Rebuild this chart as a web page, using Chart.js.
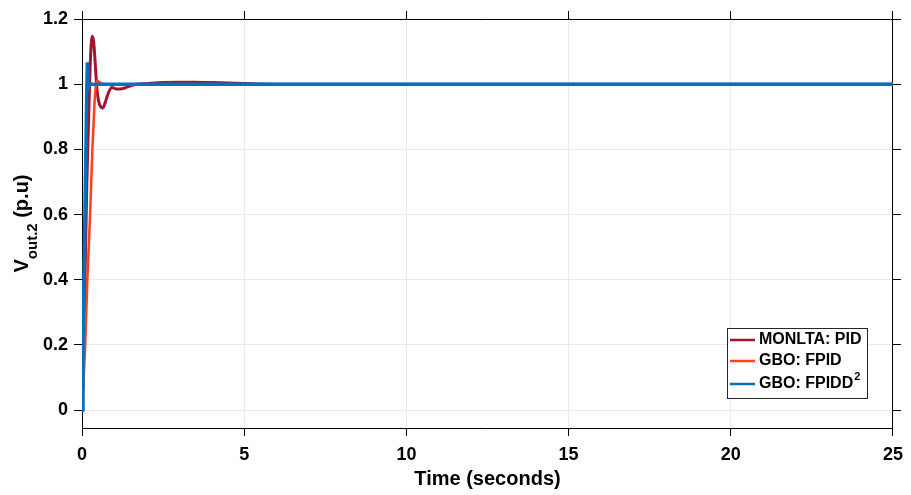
<!DOCTYPE html>
<html>
<head>
<meta charset="utf-8">
<script src="https://cdn.jsdelivr.net/npm/chart.js@4.4.1/dist/chart.umd.min.js"></script>
<style>
  html, body { margin: 0; padding: 0; background: #fff; }
  #wrap { width: 911px; height: 495px; position: relative; }
</style>
</head>
<body>
<div id="wrap"><canvas id="chart"></canvas></div>
<script>
// step responses
const seriesNames = ['MONLTA: PID', 'GBO: FPID', 'GBO: FPIDD'];
const seriesColors = ['#A2142F', '#FF4019', '#0072BD'];

const tPid = [0, 0.03, 0.06, 0.1, 0.15, 0.2, 0.25, 0.31, 0.36, 0.41, 0.46, 0.52, 0.58, 0.64, 0.72, 0.82, 0.92, 1.07, 1.27, 1.5, 1.7, 2.0, 2.5, 3.0, 3.5, 4.0, 5.0, 6.0, 8.0, 25];
const vPid = [0, 0.08, 0.22, 0.45, 0.7, 0.88, 1.05, 1.147, 1.13, 1.06, 0.985, 0.945, 0.93, 0.927, 0.945, 0.975, 0.99, 0.985, 0.987, 0.995, 1.0, 1.002, 1.005, 1.006, 1.006, 1.005, 1.002, 1.0, 1.0, 1.0];

const tFpid = [0, 0.02, 0.1, 0.165, 0.25, 0.32, 0.39, 0.43, 0.47, 0.52, 0.6, 0.7, 1.0, 25];
const vFpid = [0, 0, 0.2, 0.4, 0.6, 0.8, 0.95, 1.0, 1.01, 1.008, 1.002, 1.0, 1.0, 1.0];

const tFpidd = [0, 0.03, 0.06, 0.09, 0.12, 0.145, 0.165, 0.185, 0.2, 0.23, 0.3, 0.5, 25];
const vFpidd = [0, 0.2, 0.4, 0.6, 0.8, 0.97, 1.067, 1.0, 0.99, 0.998, 1.0, 1.0, 1.0];

const xTicks = [0, 5, 10, 15, 20, 25];
const yTicks = [0, 0.2, 0.4, 0.6, 0.8, 1, 1.2];

const FONT = '"Liberation Sans", Arial, sans-serif';

function pts(t, v) { return t.map((x, i) => ({ x: x, y: v[i] })); }
function setTicks(list) { return axis => { axis.ticks = list.map(v => ({ value: v })); }; }

const yTitle = {
  id: 'yTitle',
  afterDraw(chart) {
    const ctx = chart.ctx;
    const a = chart.chartArea;
    ctx.save();
    ctx.translate(28, (a.top + a.bottom) / 2);
    ctx.rotate(-Math.PI / 2);
    ctx.fillStyle = '#000';
    ctx.textBaseline = 'alphabetic';
    ctx.font = 'bold 20px ' + FONT;
    const w1 = ctx.measureText('V').width;
    ctx.font = 'bold 15px ' + FONT;
    const w2 = ctx.measureText('out.2').width;
    ctx.font = 'bold 20px ' + FONT;
    const w3 = ctx.measureText(' (p.u)').width;
    let x = -(w1 + w2 + w3) / 2;
    ctx.fillText('V', x, 0); x += w1;
    ctx.font = 'bold 15px ' + FONT;
    ctx.fillText('out.2', x, 9); x += w2;
    ctx.font = 'bold 20px ' + FONT;
    ctx.fillText(' (p.u)', x, 0);
    ctx.restore();
  }
};

const boxLegend = {
  id: 'boxLegend',
  afterDraw(chart) {
    const ctx = chart.ctx;
    const bx = 727.5, by = 328.5, bw = 140, bh = 70;
    const rows = [340, 361, 384];
    ctx.save();
    ctx.fillStyle = '#fff';
    ctx.fillRect(bx, by, bw, bh);
    ctx.strokeStyle = '#262626';
    ctx.lineWidth = 1;
    ctx.strokeRect(bx, by, bw, bh);
    seriesNames.forEach((name, i) => {
      ctx.strokeStyle = seriesColors[i];
      ctx.lineWidth = 2.5;
      ctx.beginPath();
      ctx.moveTo(730, rows[i]);
      ctx.lineTo(755, rows[i]);
      ctx.stroke();
      ctx.fillStyle = '#000';
      ctx.font = 'bold 16px ' + FONT;
      ctx.textBaseline = 'middle';
      ctx.fillText(name, 759, rows[i]);
      if (i === 2) {
        const w = ctx.measureText(name).width;
        ctx.font = 'bold 11px ' + FONT;
        ctx.fillText('2', 759 + w + 1, rows[i] - 7);
      }
    });
    ctx.restore();
  }
};

new Chart(document.getElementById('chart'), {
  type: 'line',
  data: {
    datasets: [
      { label: seriesNames[0], data: pts(tPid, vPid), borderColor: seriesColors[0], borderWidth: 3, order: 2, cubicInterpolationMode: 'monotone' },
      { label: seriesNames[1], data: pts(tFpid, vFpid), borderColor: seriesColors[1], borderWidth: 2.5, order: 1 },
      { label: seriesNames[2], data: pts(tFpidd, vFpidd), borderColor: seriesColors[2], borderWidth: 3.5, order: 0 }
    ]
  },
  options: {
    responsive: true,
    maintainAspectRatio: false,
    animation: false,
    layout: { padding: 0 },
    elements: { point: { radius: 0 }, line: { fill: false } },
    plugins: { legend: { display: false }, tooltip: { enabled: false } },
    scales: {
      x: {
        type: 'linear', min: 0, max: 25,
        afterBuildTicks: setTicks(xTicks),
        afterFit: s => { s.height = 67; },
        grid: { color: '#ebebeb', tickColor: '#000', tickLength: 8 },
        border: { color: '#000', width: 1 },
        ticks: { color: '#000', padding: 8, font: { family: FONT, size: 18, weight: 'bold' }, maxRotation: 0 },
        title: { display: true, text: 'Time (seconds)', color: '#000', font: { family: FONT, size: 20, weight: 'bold' }, padding: { top: 0, bottom: 4 } }
      },
      x2: {
        type: 'linear', position: 'top', min: 0, max: 25,
        afterBuildTicks: setTicks(xTicks),
        afterFit: s => { s.height = 19; },
        grid: { drawOnChartArea: false, tickColor: '#000', tickLength: 8 },
        border: { color: '#000', width: 1 },
        ticks: { display: false }
      },
      y: {
        type: 'linear', min: -0.055, max: 1.2,
        afterBuildTicks: setTicks(yTicks),
        afterFit: s => { s.width = 82; },
        grid: { color: '#ebebeb', tickColor: '#000', tickLength: 8 },
        border: { color: '#000', width: 1 },
        ticks: { color: '#000', padding: 6, font: { family: FONT, size: 18, weight: 'bold' }, callback: v => String(Math.round(v * 10) / 10) }
      },
      y2: {
        type: 'linear', position: 'right', min: -0.055, max: 1.2,
        afterBuildTicks: setTicks(yTicks),
        afterFit: s => { s.width = 18; },
        grid: { drawOnChartArea: false, tickColor: '#000', tickLength: 8 },
        border: { color: '#000', width: 1 },
        ticks: { display: false }
      }
    }
  },
  plugins: [yTitle, boxLegend]
});
</script>
</body>
</html>
